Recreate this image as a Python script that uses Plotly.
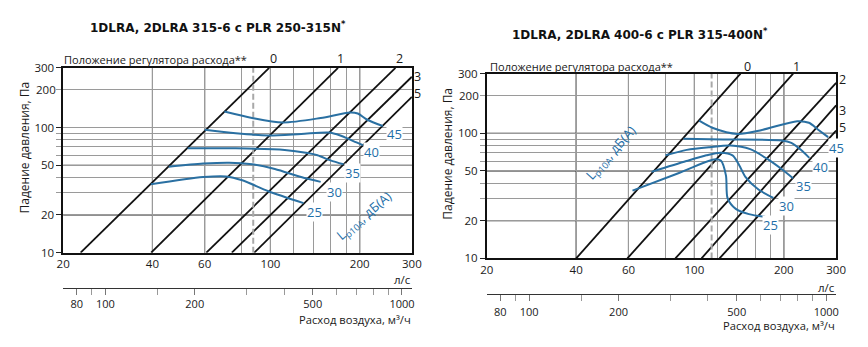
import math
import plotly.graph_objects as go

W, H = 868, 347

# ---------------- data ----------------
flow_ticks = [20, 40, 60, 100, 200, 300]
flow_minor = [80, 120, 140, 160, 180]
pressure_ticks = [10, 20, 50, 100, 300]
pressure_minor = [30, 40, 60, 70, 80, 90, 200]
m3h_ticks = [80, 100, 200, 500, 1000]
m3h_minor = [90, 150, 300, 400, 600, 700, 800, 900]

reg_names = ["0", "1", "2", "3", "5"]
left_reg_q_start = [22.9, 39.6, 60.8, 74.1, 88.2]
left_reg_q_end = [99, 169, 264, 300, 300]
left_reg_p_end = [300, 300, 300, 255, 176]
right_reg_q_start = [40.0, 59.5, 86.3, 105.7, 121.5]
right_reg_q_end = [143, 215, 300, 300, 300]
right_reg_p_end = [300, 300, 253, 167, 105]

left_dashed_q = 87.5
right_dashed_q = 114.3

noise_levels = ["25", "30", "35", "40", "45"]

left_q25 = [39.5, 59.3, 70.8, 80.4, 98.4, 129.3]
left_p25 = [35.2, 40.2, 40.7, 37.9, 31.0, 24.9]
left_q30 = [45.4, 59.3, 72.6, 86.7, 103.5, 126.9, 147.7]
left_p30 = [48.6, 51.5, 52.4, 50.9, 46.7, 40.2, 36.8]
left_q35 = [52.6, 76.4, 111.7, 133.5, 144.1, 159.4, 176.4]
left_p35 = [68.2, 68.2, 66.3, 62.5, 60.0, 54.7, 50.9]
left_q40 = [60.0, 76.4, 98.4, 126.9, 157.3, 172, 190.3, 205.4]
left_p40 = [96.0, 89.9, 86.4, 88.9, 91.3, 86.5, 78.0, 72.4]
left_q45 = [69.9, 86.7, 110, 147.7, 185.6, 197, 212, 239.3]
left_p45 = [134.2, 119.3, 109.8, 119.3, 131.9, 129.5, 115.5, 103]

right_q25 = [61.9, 87.4, 116.3, 122.7, 127.7, 129.4, 137.8, 152.6, 173.1]
right_p25 = [34.8, 47.5, 61.8, 60.5, 46.1, 30.2, 24.9, 22.6, 21.5]
right_q30 = [71.8, 94.0, 109.7, 122.7, 134.4, 141.4, 148.7, 164.7, 184.5]
right_p30 = [49.2, 60.0, 66.7, 70.0, 66.7, 55.9, 44.7, 35.4, 30.5]
right_q35 = [80, 94.3, 112.6, 132.4, 154.1, 175.4, 196.5, 214.8]
right_p35 = [66.7, 73.7, 77.5, 79.8, 74.7, 62.7, 51.8, 43.7]
right_q40 = [91.9, 124.6, 196.5, 212, 228.8, 243.7]
right_p40 = [90.4, 89.2, 87.6, 83.9, 73.5, 63.6]
right_q45 = [103.8, 115.5, 139.6, 168.8, 222, 243, 259.7, 282]
right_p45 = [126.2, 110.2, 98.8, 106.4, 125, 121.4, 107.9, 93.2]

left_curves_q = [left_q25, left_q30, left_q35, left_q40, left_q45]
left_curves_p = [left_p25, left_p30, left_p35, left_p40, left_p45]
right_curves_q = [right_q25, right_q30, right_q35, right_q40, right_q45]
right_curves_p = [right_p25, right_p30, right_p35, right_p40, right_p45]

title_left = "1DLRA, 2DLRA 315-6 с PLR 250-315N"
title_right = "1DLRA, 2DLRA 400-6 с PLR 315-400N"

# ---------------- style ----------------
BLUE = "#2a70a2"
BLUE_TXT = "#1f6fa8"
DARK = "#222222"
GREY = "#9a9a9a"
FONT = "Open Sans, Noto Sans, sans-serif"
TXT = "#1a1a1a"


def fx(p):
    return p / W


def fy(p):
    return 1 - p / H


left_box = dict(x0=57.3, x1=413.0, y0=62.6, y1=255.7)
right_box = dict(x0=489.3, x1=845.7, y0=68.6, y1=261.7)

fig = go.Figure()


def add_panel(xa, ya, xsec, q_start, q_end, p_end, dashed_q, cq, cp):
    for qs, qe, pe in zip(q_start, q_end, p_end):
        fig.add_trace(go.Scatter(x=[qs, qe], y=[10, pe], mode="lines",
                                 line=dict(color="#111111", width=1.8),
                                 xaxis=xa, yaxis=ya, hoverinfo="skip", showlegend=False))
    fig.add_trace(go.Scatter(x=[dashed_q, dashed_q], y=[10, 300], mode="lines",
                             line=dict(color="#a8a8a8", width=2, dash="6px,3px"),
                             xaxis=xa, yaxis=ya, hoverinfo="skip", showlegend=False))
    for q, p in zip(cq, cp):
        fig.add_trace(go.Scatter(x=q, y=p, mode="lines",
                                 line=dict(color=BLUE, width=2, shape="spline", smoothing=0.8),
                                 xaxis=xa, yaxis=ya, hoverinfo="skip", showlegend=False))
    fig.add_trace(go.Scatter(x=[m3h_ticks[0], m3h_ticks[-1]], y=[10, 10], mode="lines",
                             line=dict(width=0), opacity=0,
                             xaxis=xsec, yaxis=ya, hoverinfo="skip", showlegend=False))


add_panel("x", "y", "x3", left_reg_q_start, left_reg_q_end, left_reg_p_end,
          left_dashed_q, left_curves_q, left_curves_p)
add_panel("x2", "y2", "x4", right_reg_q_start, right_reg_q_end, right_reg_p_end,
          right_dashed_q, right_curves_q, right_curves_p)

dark_x = [40, 60, 100, 200]
dark_y = [20, 50, 100]
shapes = []
for xa, ya in (("x", "y"), ("x2", "y2")):
    for v in dark_x:
        shapes.append(dict(type="line", xref=xa, yref=ya + " domain", x0=v, x1=v, y0=0, y1=1,
                           line=dict(color=DARK, width=1.1), layer="below"))
    for v in dark_y:
        shapes.append(dict(type="line", xref=xa + " domain", yref=ya, x0=0, x1=1, y0=v, y1=v,
                           line=dict(color=DARK, width=1.1), layer="below"))


def main_x(box, anchor):
    return dict(type="log", range=[math.log10(20), math.log10(300)],
                domain=[fx(box["x0"]), fx(box["x1"])], anchor=anchor,
                tickvals=flow_ticks, ticktext=[str(v) for v in flow_ticks], ticks="",
                showgrid=True, gridcolor=GREY, gridwidth=1,
                minor=dict(tickvals=flow_minor, showgrid=True, gridcolor=GREY, gridwidth=1, ticks=""),
                showline=True, mirror=True, linecolor="#111111", linewidth=1.5,
                tickfont=dict(size=11.5, family=FONT, color=TXT), zeroline=False, fixedrange=True)


def main_y(box, anchor):
    return dict(type="log", range=[1, math.log10(300)],
                domain=[fy(box["y1"]), fy(box["y0"])], anchor=anchor,
                tickvals=pressure_ticks, ticktext=[str(v) for v in pressure_ticks],
                ticks="outside", ticklen=5, tickcolor=DARK, tickwidth=1,
                showgrid=True, gridcolor=GREY, gridwidth=1,
                minor=dict(tickvals=pressure_minor, showgrid=True, gridcolor=GREY, gridwidth=1,
                           ticks="outside", ticklen=5, tickcolor=GREY),
                showline=True, mirror=True, linecolor="#111111", linewidth=1.5,
                tickfont=dict(size=11.5, family=FONT, color=TXT), zeroline=False, fixedrange=True)


def sec_x(over, line_y, standoff):
    return dict(type="log", range=[math.log10(20 * 3.6), math.log10(300 * 3.6)],
                overlaying=over, anchor="free", position=fy(line_y), side="bottom",
                tickvals=m3h_ticks, ticktext=[str(v) for v in m3h_ticks],
                ticks="outside", ticklen=6, tickcolor="#777777",
                minor=dict(tickvals=m3h_minor, ticks="outside", ticklen=6, tickcolor="#999999",
                           showgrid=False),
                ticklabelstandoff=standoff,
                showgrid=False, showline=True, linecolor="#333333",
                linewidth=1.2, tickfont=dict(size=11, family=FONT, color=TXT),
                zeroline=False, fixedrange=True)


annotations = []


def ann(text, x, y, size=11, color=TXT, xanchor="center", angle=0, bg=None, family=FONT):
    d = dict(text=text, x=fx(x), y=fy(y), xref="paper", yref="paper", showarrow=False,
             xanchor=xanchor, yanchor="middle", textangle=angle, borderpad=0,
             font=dict(size=size, color=color, family=family))
    if bg:
        d.update(bgcolor=bg)
    annotations.append(d)


ann("<b>" + title_left + "<sup>*</sup></b>", 215.5, 20, size=12, color="#111", family="DejaVu Sans")
ann("<b>" + title_right + "<sup>*</sup></b>", 646, 27.5, size=12, color="#111", family="DejaVu Sans")

reg_caption = "Положение регулятора расхода**"
ann(reg_caption, 57, 54, size=11, xanchor="left")
ann(reg_caption, 492, 61, size=11, xanchor="left")

ylab = "Падение давления, Па"
ann(ylab, 17.5, 145.6, size=12, angle=-90)
ann(ylab, 449, 152, size=12, angle=-90)


def p_to_px(p, box):
    return box["y0"] + (box["y1"] - box["y0"]) * (math.log10(300) - math.log10(p)) / (math.log10(300) - 1)


ann("200", 50.5, p_to_px(200, left_box), size=11.5, xanchor="right")
ann("200", 482.5, p_to_px(200, right_box), size=11.5, xanchor="right")

left_reg_lbl_pos = [(271.7, 53), (340, 53), (400, 53), (419, 71.5), (419, 89)]
right_reg_lbl_pos = [(755, 61), (805, 61), (851.7, 75), (851.7, 106.7), (851.7, 125)]
for n, (x, y) in zip(reg_names, left_reg_lbl_pos):
    ann(n, x, y, size=12.5)
for n, (x, y) in zip(reg_names, right_reg_lbl_pos):
    ann(n, x, y, size=12.5)

left_noise_pos = [(313.3, 213.5), (334, 192.5), (352.7, 172.7), (371.7, 150.8), (395, 131.7)]
right_noise_pos = [(778.3, 226.7), (795, 206.7), (812.7, 186.3), (830, 166.3), (846, 146.7)]
for n, (x, y) in zip(noise_levels, left_noise_pos):
    ann(n, x, y, size=13, color=BLUE_TXT, bg="white")
for n, (x, y) in zip(noise_levels, right_noise_pos):
    ann(n, x, y, size=13, color=BLUE_TXT, bg="white")

lp = "L<sub>p10A</sub>, дБ(А)"
ann(lp, 365, 217.3, size=13, color=BLUE_TXT, angle=-40)
ann(lp, 616.7, 151.7, size=13, color=BLUE_TXT, angle=-48)

ann("л/с", 413, 283.3, size=11.5, xanchor="right")
ann("л/с", 845.7, 291.7, size=11.5, xanchor="right")
ann("Расход воздуха, м³/ч", 413, 325.5, size=11.2, xanchor="right")
ann("Расход воздуха, м³/ч", 845.7, 331.5, size=11.2, xanchor="right")

fig.update_layout(
    width=W, height=H, autosize=False,
    margin=dict(l=0, r=0, t=0, b=0),
    paper_bgcolor="white", plot_bgcolor="white",
    showlegend=False,
    xaxis=main_x(left_box, "y"),
    yaxis=main_y(left_box, "x"),
    xaxis2=main_x(right_box, "y2"),
    yaxis2=main_y(right_box, "x2"),
    xaxis3=sec_x("x", 292.3, 0),
    xaxis4=sec_x("x2", 299.3, 1),
    shapes=shapes,
    annotations=annotations,
)

fig.write_html("out.html")
